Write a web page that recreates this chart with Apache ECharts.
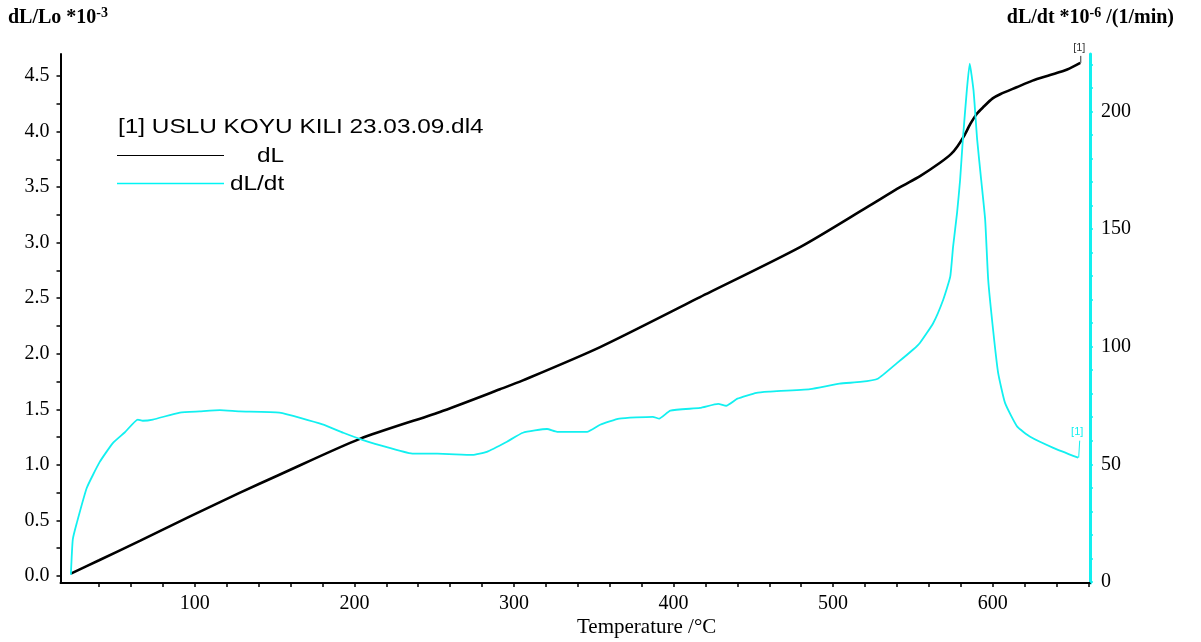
<!DOCTYPE html>
<html>
<head>
<meta charset="utf-8">
<script src="https://cdn.jsdelivr.net/npm/echarts@6/dist/echarts.min.js"></script>
<style>html,body{margin:0;padding:0;background:#fff}#c{width:1201px;height:642px}</style>
</head>
<body>
<div id="c"></div>
<script>
// ---- data ----
const dLTemperature = [22.3, 40, 65.5, 97, 128, 153, 203.4, 253.6, 291.2, 305.6, 354, 416.6, 479.3, 521.3, 542, 554.5, 567, 574, 578, 582, 586, 590, 594, 600, 605, 615, 625, 636, 646.7, 654.9];
const dLValues      = [0.02, 0.14, 0.315, 0.535, 0.747, 0.91, 1.233, 1.476, 1.68, 1.76, 2.06, 2.51, 2.96, 3.32, 3.50, 3.60, 3.72, 3.80, 3.87, 3.96, 4.07, 4.16, 4.22, 4.30, 4.34, 4.40, 4.46, 4.51, 4.56, 4.62];

const rateTemperature = [22.3, 23.5, 26, 32.3, 40.4, 48.6, 56, 64.3, 67.4, 73.7, 90.6, 103, 115.7, 128, 153, 180, 193, 205, 222, 237, 252, 274, 283, 295.6, 305.6, 320.7, 327, 345.8, 354, 366, 387, 391, 398, 416.6, 428, 433, 440, 452, 460.5, 485.6, 504, 517, 528, 540, 550, 554.5, 562.7, 569, 573.4, 575.2, 577.7, 579.6, 581.3, 583.8, 585.6, 588, 590.3, 592.8, 595.3, 597.2, 600.3, 603.4, 607.8, 615.4, 623.5, 638, 653.6];
const rateValues      = [3, 18, 25, 40, 51, 59, 63.5, 69, 68.5, 69, 72, 72.5, 73, 72.5, 72, 67, 63.4, 60.4, 57, 54.5, 54.5, 54, 55.3, 59.6, 63.4, 65, 63.8, 63.8, 66.8, 69.4, 70.2, 69.4, 72.8, 74, 75.7, 74.9, 77.9, 80.4, 80.9, 82, 84.3, 85, 86.4, 93, 98.7, 101.7, 110, 120, 129.8, 142.6, 157, 171, 188, 209, 220.4, 209, 188, 171, 154, 128.5, 107, 89, 76, 66, 61.7, 57, 52.8];

const xLabelValues = [100, 200, 300, 400, 500, 600];
const xTickValues = [40, 60, 80, 100, 120, 140, 160, 180, 200, 220, 240, 260, 280, 300, 320, 340, 360, 380, 400, 420, 440, 460, 480, 500, 520, 540, 560, 580, 600, 620, 640, 660];
const leftLabelValues = [0, 0.5, 1.0, 1.5, 2.0, 2.5, 3.0, 3.5, 4.0, 4.5];
const leftTickValues = [0, 0.25, 0.5, 0.75, 1.0, 1.25, 1.5, 1.75, 2.0, 2.25, 2.5, 2.75, 3.0, 3.25, 3.5, 3.75, 4.0, 4.25, 4.5];
const rightLabelValues = [0, 50, 100, 150, 200];
const rightTickValues = [0, 10, 20, 30, 40, 50, 60, 70, 80, 90, 100, 110, 120, 130, 140, 150, 160, 170, 180, 190, 200, 210, 220];

const legendTitle = '[1] USLU KOYU KILI 23.03.09.dl4';
const seriesNames = ['dL', 'dL/dt'];
const xAxisName = 'Temperature /°C';

// ---- chart ----
const CYAN = '#12F0F0';
const SERIF = 'Liberation Serif';
const chart = echarts.init(document.getElementById('c'), null, {renderer: 'canvas'});

const dLData = dLTemperature.map((t, i) => [t, dLValues[i]]);
const rateData = rateTemperature.map((t, i) => [t, rateValues[i]]);

const option = {
  animation: false,
  backgroundColor: '#fff',
  grid: {left: 60.5, right: 111, top: 54, bottom: 59, containLabel: false},
  xAxis: {
    type: 'value', min: 15.8, max: 661,
    axisLine: {show: true, onZero: false, lineStyle: {color: '#000', width: 2}},
    axisTick: {show: true, length: 4, customValues: xTickValues, lineStyle: {color: '#000', width: 1.5}},
    axisLabel: {customValues: xLabelValues, color: '#000', fontFamily: SERIF, fontSize: 20, margin: 11},
    splitLine: {show: false}
  },
  yAxis: [
    {
      type: 'value', position: 'left', min: -0.065, max: 4.70,
      axisLine: {show: true, onZero: false, lineStyle: {color: '#000', width: 2}},
      axisTick: {show: true, length: 4, customValues: leftTickValues, lineStyle: {color: '#000', width: 1.5}},
      axisLabel: {customValues: leftLabelValues, formatter: v => Number(v).toFixed(1), color: '#000', fontFamily: SERIF, fontSize: 20, margin: 11},
      splitLine: {show: false}
    },
    {
      type: 'value', position: 'right', min: -0.5, max: 224.5,
      axisLine: {show: true, onZero: false, lineStyle: {color: CYAN, width: 3}},
      axisTick: {show: true, length: 3, customValues: rightTickValues, lineStyle: {color: CYAN, width: 1.5}},
      axisLabel: {customValues: rightLabelValues, formatter: v => String(Math.round(v)), color: '#000', fontFamily: SERIF, fontSize: 20, margin: 11},
      splitLine: {show: false}
    }
  ],
  series: [
    {name: seriesNames[0], type: 'line', xAxisIndex: 0, yAxisIndex: 0, data: dLData, smooth: 0.25,
     showSymbol: false, symbol: 'none', lineStyle: {color: '#000', width: 2.6}, z: 2},
    {name: seriesNames[1], type: 'line', xAxisIndex: 0, yAxisIndex: 1, data: rateData, smooth: 0.15,
     showSymbol: false, symbol: 'none', lineStyle: {color: CYAN, width: 1.8}, z: 3}
  ]
};
chart.setOption(option);

// end-point labels positioned through the chart's own scales
const endDL = chart.convertToPixel({xAxisIndex: 0, yAxisIndex: 0}, dLData[dLData.length - 1]);
const endRate = chart.convertToPixel({xAxisIndex: 0, yAxisIndex: 1}, rateData[rateData.length - 1]);

const legendFont = 'Liberation Sans';
const graphic = [
  // left axis title
  {type: 'text', left: 8, top: 6, style: {
    text: '{a|dL/Lo *10}{s|-3}', rich: {
      a: {fontFamily: SERIF, fontSize: 20, fontWeight: 'bold', fill: '#000', lineHeight: 24},
      s: {fontFamily: SERIF, fontSize: 14, fontWeight: 'bold', fill: '#000', lineHeight: 12, verticalAlign: 'top'}
    }}},
  // right axis title
  {type: 'text', right: 27, top: 6, style: {
    text: '{a|dL/dt *10}{s|-6}{a| /(1/min)}', rich: {
      a: {fontFamily: SERIF, fontSize: 20, fontWeight: 'bold', fill: '#000', lineHeight: 24},
      s: {fontFamily: SERIF, fontSize: 14, fontWeight: 'bold', fill: '#000', lineHeight: 12, verticalAlign: 'top'}
    }}},
  // x axis name
  {type: 'text', x: 577, y: 627, style: {text: xAxisName, font: '21px "Liberation Serif"', fill: '#000', align: 'left', verticalAlign: 'middle'}},
  // legend block
  {type: 'text', x: 118, y: 127, scaleX: 1.16, style: {text: legendTitle, font: '21px "' + legendFont + '"', fill: '#000', align: 'left', verticalAlign: 'middle'}},
  {type: 'line', shape: {x1: 117, y1: 155.5, x2: 224, y2: 155.5}, style: {stroke: '#000', lineWidth: 1}},
  {type: 'text', x: 257, y: 156, scaleX: 1.16, style: {text: seriesNames[0], font: '21px "' + legendFont + '"', fill: '#000', align: 'left', verticalAlign: 'middle'}},
  {type: 'line', shape: {x1: 117, y1: 183.5, x2: 224, y2: 183.5}, style: {stroke: '#00F5F5', lineWidth: 1.4}},
  {type: 'text', x: 230, y: 184, scaleX: 1.16, style: {text: seriesNames[1], font: '21px "' + legendFont + '"', fill: '#000', align: 'left', verticalAlign: 'middle'}},
  // end labels
  {type: 'text', x: endDL[0] - 1, y: endDL[1] - 15, style: {text: '[1]', font: '11px "Liberation Sans"', fill: '#333', align: 'center', verticalAlign: 'middle'}},
  {type: 'line', shape: {x1: endDL[0] + 0.5, y1: endDL[1] - 7, x2: endDL[0] + 0.5, y2: endDL[1]}, style: {stroke: '#333', lineWidth: 1}},
  {type: 'text', x: endRate[0] - 1, y: endRate[1] - 25.5, style: {text: '[1]', font: '11px "Liberation Sans"', fill: CYAN, align: 'center', verticalAlign: 'middle'}},
  {type: 'line', shape: {x1: endRate[0] + 1.5, y1: endRate[1] - 17, x2: endRate[0] + 0.5, y2: endRate[1]}, style: {stroke: CYAN, lineWidth: 1}}
];
chart.setOption({graphic: graphic});
</script>
</body>
</html>
